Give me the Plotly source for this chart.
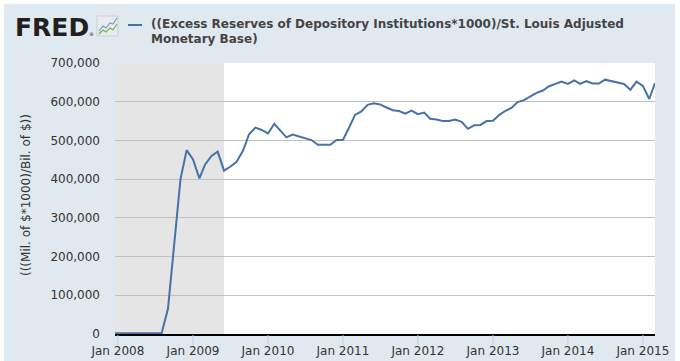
import plotly.graph_objects as go
import pandas as pd

# ---- data ----
dates = list(pd.date_range("2007-12-01", "2015-03-01", freq="MS"))
values = [
    1900,                                                                                    # Dec 2007
    1800, 2100, 2300, 1900, 1900, 2100, 2000, 2000, 65000, 233000, 400000, 475000,          # 2008
    451000, 402000, 438000, 460000, 471000, 422000, 432000, 445000, 473000, 516000, 533000, 527000,  # 2009
    518000, 543000, 525000, 508000, 515000, 510000, 505000, 501000, 489000, 489000, 489000, 501000,  # 2010
    501000, 534000, 566000, 575000, 592000, 596000, 593000, 585000, 578000, 576000, 569000, 577000,  # 2011
    568000, 572000, 556000, 554000, 550000, 550000, 554000, 548000, 530000, 539000, 540000, 550000,  # 2012
    551000, 566000, 576000, 584000, 599000, 604000, 614000, 623000, 629000, 640000, 646000, 652000,  # 2013
    646000, 655000, 646000, 653000, 647000, 647000, 657000, 653000, 649000, 646000, 631000, 652000,  # 2014
    641000, 607000, 648000,                                                                  # 2015
]
series_name_lines = [
    "((Excess Reserves of Depository Institutions*1000)/St. Louis Adjusted",
    "Monetary Base)",
]
y_title = "(((Mil. of $*1000)/Bil. of $))"
y_ticks = [0, 100000, 200000, 300000, 400000, 500000, 600000, 700000]
x_ticks = ["2008-01-01", "2009-01-01", "2010-01-01", "2011-01-01",
           "2012-01-01", "2013-01-01", "2014-01-01", "2015-01-01"]
x_tick_labels = ["Jan 2008", "Jan 2009", "Jan 2010", "Jan 2011",
                 "Jan 2012", "Jan 2013", "Jan 2014", "Jan 2015"]
x_range = ["2007-12-18", "2015-03-01"]
recession_start = "2007-12-01"
recession_end = "2009-06-01"

# ---- layout helpers (pixel -> paper) ----
W, H = 680, 361
ML, MR, MT, MB = 115, 25, 63, 27
PW, PH = W - ML - MR, H - MT - MB


def px(x):
    return (x - ML) / PW


def py(y):
    return (H - MB - y) / PH


LINE_COLOR = "#4572A7"
BG = "#E1E9F0"
TXT = "#333333"
FONT = "DejaVu Sans"

fig = go.Figure()
fig.add_trace(go.Scatter(
    x=dates, y=values, mode="lines",
    line=dict(color=LINE_COLOR, width=2),
    showlegend=False, hoverinfo="x+y",
))

shapes = [
    # recession shading (clipped to the plot area by the axis range)
    dict(type="rect", xref="x", yref="paper", x0=x_range[0], x1=recession_end,
         y0=0, y1=1, fillcolor="#E5E5E5", line=dict(width=0), layer="below"),
    # white page strips around the panel
    dict(type="rect", xref="paper", yref="paper", x0=px(0), x1=px(W), y0=py(0), y1=py(4),
         fillcolor="white", line=dict(width=0), layer="above"),
    dict(type="rect", xref="paper", yref="paper", x0=px(0), x1=px(4), y0=py(0), y1=py(H),
         fillcolor="white", line=dict(width=0), layer="above"),
    dict(type="rect", xref="paper", yref="paper", x0=px(675), x1=px(W), y0=py(0), y1=py(H),
         fillcolor="white", line=dict(width=0), layer="above"),
    # logo icon
    dict(type="rect", xref="paper", yref="paper", x0=px(97), x1=px(118), y0=py(36), y1=py(16),
         fillcolor="#E8ECEF", line=dict(color="#C9D0D6", width=1), layer="above"),
    dict(type="path", xref="paper", yref="paper",
         path="M {} {} L {} {} L {} {} L {} {} L {} {} L {} {}".format(
             px(99), py(31), px(103), py(26), px(106), py(28), px(110), py(23),
             px(113), py(24), px(117), py(18)),
         line=dict(color="#6F9BC8", width=1.2), layer="above"),
    dict(type="path", xref="paper", yref="paper",
         path="M {} {} L {} {} L {} {} L {} {} L {} {} L {} {}".format(
             px(99), py(34), px(103), py(30), px(106), py(32), px(110), py(28),
             px(113), py(30), px(117), py(24)),
         line=dict(color="#7FAF4A", width=1.2), layer="above"),
    # legend line sample
    dict(type="line", xref="paper", yref="paper", x0=px(128), x1=px(142), y0=py(25), y1=py(25),
         line=dict(color=LINE_COLOR, width=2), layer="above"),
]
# x tick marks below the axis line
for t in x_ticks:
    shapes.append(dict(type="line", xref="x", yref="paper", x0=t, x1=t,
                       y0=py(335), y1=py(345), line=dict(color="#BFCFDF", width=1),
                       layer="above"))

annotations = [
    dict(text="<b>FRED</b>", xref="paper", yref="paper", x=px(13), y=py(27),
         xanchor="left", yanchor="middle", showarrow=False,
         font=dict(family=FONT, size=25, color="#231F20")),
    dict(text="®", xref="paper", yref="paper", x=px(87), y=py(34),
         xanchor="left", yanchor="middle", showarrow=False,
         font=dict(family=FONT, size=5, color="#231F20")),
    dict(text="<b>" + series_name_lines[0] + "</b>", xref="paper", yref="paper",
         x=px(149), y=py(24), xanchor="left", yanchor="middle", showarrow=False,
         font=dict(family=FONT, size=12, color="#444444")),
    dict(text="<b>" + series_name_lines[1] + "</b>", xref="paper", yref="paper",
         x=px(149), y=py(38.5), xanchor="left", yanchor="middle", showarrow=False,
         font=dict(family=FONT, size=12, color="#444444")),
    dict(text=y_title, xref="paper", yref="paper", x=px(26), y=py(195),
         xanchor="center", yanchor="middle", showarrow=False, textangle=-90,
         font=dict(family=FONT, size=12, color=TXT)),
]

fig.update_layout(
    width=W, height=H, autosize=False,
    margin=dict(l=ML, r=MR, t=MT, b=MB, pad=0),
    paper_bgcolor=BG, plot_bgcolor="white",
    shapes=shapes, annotations=annotations,
    font=dict(family=FONT, size=12, color=TXT),
    xaxis=dict(
        type="date", range=x_range,
        tickvals=x_ticks, ticktext=x_tick_labels,
        ticks="", ticklabelstandoff=5,
        showline=True, linecolor="black", linewidth=2,
        showgrid=False, zeroline=False, automargin=False,
        tickfont=dict(family=FONT, size=12, color=TXT),
    ),
    yaxis=dict(
        range=[0, 700000], tickvals=y_ticks, tickformat=",",
        showgrid=True, gridcolor="#C0C0C0", gridwidth=1,
        ticks="", ticklabelstandoff=14, zeroline=False, showline=False,
        automargin=False,
        tickfont=dict(family=FONT, size=12, color=TXT),
    ),
)

fig.write_html(
    "out.html",
    config={"displayModeBar": False},
    post_script="document.body.style.margin='0';document.body.style.padding='0';"
                "document.body.style.overflow='hidden';",
)
